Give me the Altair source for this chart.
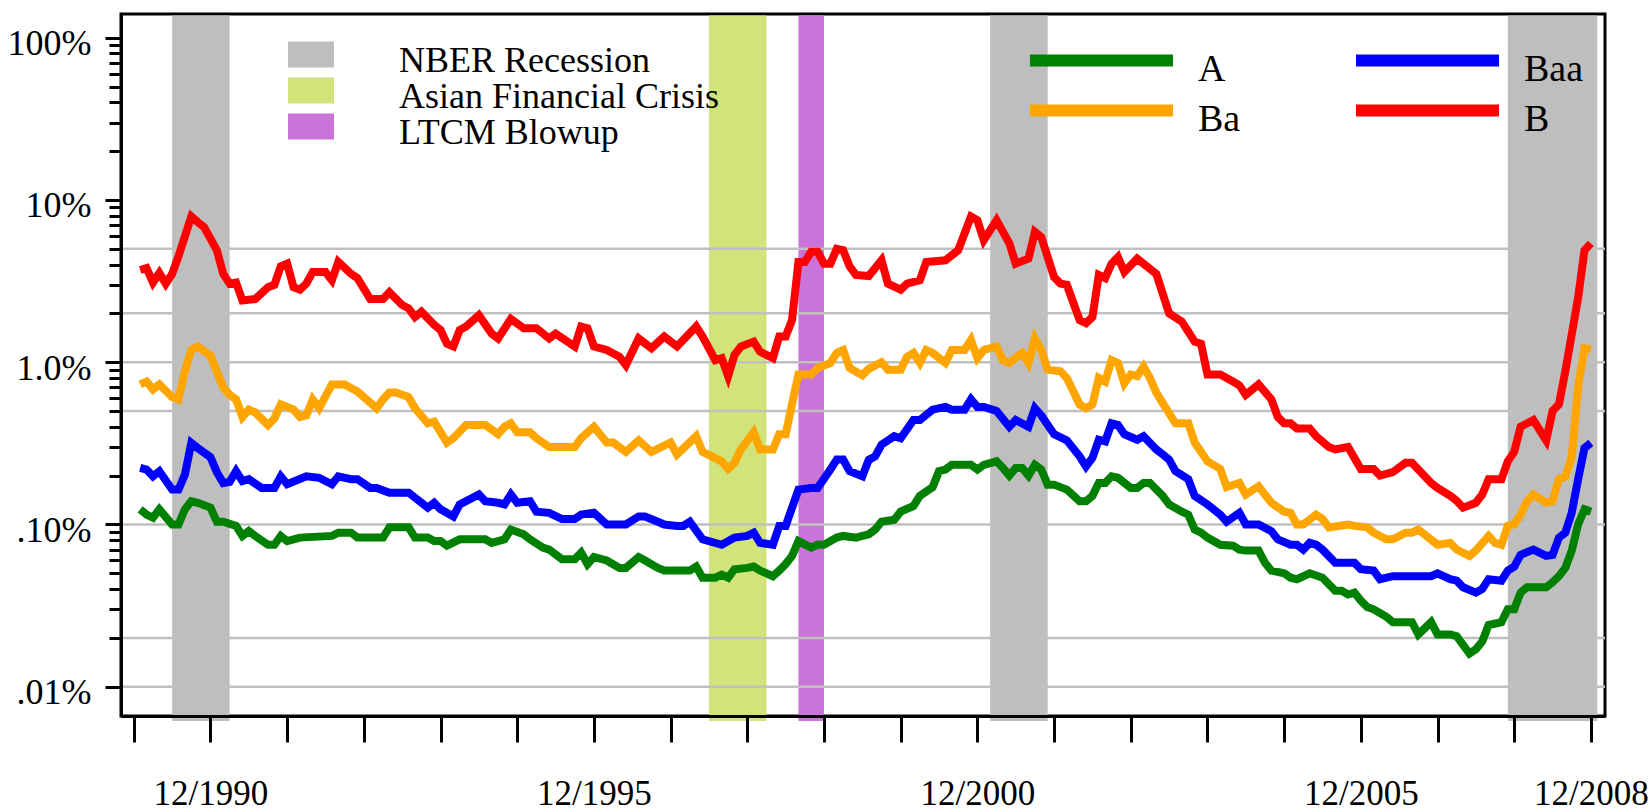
import altair as alt
import pandas as pd

# Trailing default rates by rating class, monthly, in percent
SERIES_A = [
    ("1990-01", 0.124), ("1990-02", 0.115), ("1990-03", 0.11), ("1990-04", 0.124), ("1990-06", 0.10),
    ("1990-07", 0.10), ("1990-08", 0.124), ("1990-09", 0.139), ("1990-10", 0.136), ("1990-12", 0.127),
    ("1991-01", 0.104), ("1991-02", 0.104), ("1991-04", 0.098), ("1991-05", 0.085), ("1991-06", 0.091),
    ("1991-07", 0.085), ("1991-09", 0.075), ("1991-10", 0.075), ("1991-11", 0.085), ("1991-12", 0.079),
    ("1992-02", 0.083), ("1992-07", 0.085), ("1992-08", 0.089), ("1992-10", 0.089), ("1992-11", 0.083),
    ("1993-03", 0.083), ("1993-04", 0.096), ("1993-07", 0.096), ("1993-08", 0.083), ("1993-10", 0.083),
    ("1993-11", 0.079), ("1993-12", 0.079), ("1994-01", 0.074), ("1994-03", 0.081), ("1994-07", 0.081),
    ("1994-08", 0.077), ("1994-10", 0.081), ("1994-11", 0.093), ("1995-01", 0.087), ("1995-02", 0.081),
    ("1995-04", 0.072), ("1995-05", 0.070), ("1995-07", 0.061), ("1995-09", 0.061), ("1995-10", 0.067),
    ("1995-11", 0.057), ("1995-12", 0.063), ("1996-02", 0.060), ("1996-04", 0.054), ("1996-05", 0.054),
    ("1996-07", 0.063), ("1996-08", 0.060), ("1996-10", 0.054), ("1996-11", 0.052), ("1997-03", 0.052),
    ("1997-04", 0.055), ("1997-05", 0.047), ("1997-07", 0.047), ("1997-08", 0.049), ("1997-09", 0.047),
    ("1997-10", 0.053), ("1997-12", 0.054), ("1998-01", 0.055), ("1998-02", 0.052), ("1998-04", 0.048),
    ("1998-05", 0.052), ("1998-06", 0.057), ("1998-07", 0.064), ("1998-08", 0.079), ("1998-10", 0.072),
    ("1998-11", 0.075), ("1998-12", 0.075), ("1999-02", 0.083), ("1999-03", 0.085), ("1999-05", 0.083),
    ("1999-06", 0.085), ("1999-07", 0.087), ("1999-08", 0.093), ("1999-09", 0.104), ("1999-11", 0.107),
    ("1999-12", 0.12), ("2000-02", 0.13), ("2000-03", 0.15), ("2000-05", 0.17), ("2000-06", 0.213),
    ("2000-07", 0.218), ("2000-08", 0.233), ("2000-11", 0.233), ("2000-12", 0.218), ("2001-01", 0.233),
    ("2001-03", 0.245), ("2001-04", 0.223), ("2001-05", 0.20), ("2001-06", 0.223), ("2001-07", 0.223),
    ("2001-08", 0.20), ("2001-09", 0.233), ("2001-10", 0.218), ("2001-11", 0.176), ("2001-12", 0.176),
    ("2002-02", 0.164), ("2002-04", 0.139), ("2002-05", 0.139), ("2002-06", 0.15), ("2002-07", 0.18),
    ("2002-08", 0.18), ("2002-09", 0.198), ("2002-10", 0.194), ("2002-12", 0.168), ("2003-01", 0.168),
    ("2003-02", 0.18), ("2003-03", 0.18), ("2003-05", 0.15), ("2003-06", 0.133), ("2003-08", 0.12),
    ("2003-09", 0.115), ("2003-10", 0.093), ("2003-11", 0.089), ("2003-12", 0.083), ("2004-02", 0.075),
    ("2004-04", 0.074), ("2004-05", 0.070), ("2004-06", 0.069), ("2004-08", 0.069), ("2004-09", 0.058),
    ("2004-10", 0.052), ("2004-12", 0.050), ("2005-01", 0.047), ("2005-02", 0.046), ("2005-04", 0.050),
    ("2005-06", 0.047), ("2005-08", 0.039), ("2005-09", 0.039), ("2005-10", 0.037), ("2005-11", 0.038),
    ("2005-12", 0.034), ("2006-01", 0.031), ("2006-02", 0.030), ("2006-04", 0.027), ("2006-05", 0.025),
    ("2006-08", 0.025), ("2006-09", 0.021), ("2006-11", 0.025), ("2006-12", 0.021), ("2007-02", 0.021),
    ("2007-03", 0.0205), ("2007-05", 0.016), ("2007-06", 0.017), ("2007-07", 0.019), ("2007-08", 0.024),
    ("2007-10", 0.025), ("2007-11", 0.030), ("2007-12", 0.030), ("2008-01", 0.038), ("2008-02", 0.041),
    ("2008-05", 0.041), ("2008-06", 0.044), ("2008-07", 0.048), ("2008-08", 0.054), ("2008-09", 0.069),
    ("2008-10", 0.10), ("2008-11", 0.124), ("2008-12", 0.12),
]

SERIES_BAA = [
    ("1990-01", 0.223), ("1990-02", 0.218), ("1990-03", 0.198), ("1990-04", 0.213), ("1990-06", 0.164),
    ("1990-07", 0.164), ("1990-08", 0.203), ("1990-09", 0.318), ("1990-10", 0.296), ("1990-12", 0.26),
    ("1991-01", 0.21), ("1991-02", 0.18), ("1991-03", 0.183), ("1991-04", 0.213), ("1991-05", 0.185),
    ("1991-06", 0.19), ("1991-08", 0.168), ("1991-10", 0.168), ("1991-11", 0.198), ("1991-12", 0.177),
    ("1992-03", 0.198), ("1992-05", 0.194), ("1992-07", 0.177), ("1992-08", 0.198), ("1992-10", 0.19),
    ("1992-11", 0.19), ("1993-01", 0.168), ("1993-02", 0.168), ("1993-04", 0.157), ("1993-07", 0.157),
    ("1993-10", 0.127), ("1993-11", 0.136), ("1993-12", 0.124), ("1994-02", 0.112), ("1994-03", 0.133),
    ("1994-06", 0.153), ("1994-07", 0.139), ("1994-09", 0.136), ("1994-10", 0.133), ("1994-11", 0.153),
    ("1994-12", 0.136), ("1995-02", 0.139), ("1995-03", 0.12), ("1995-05", 0.118), ("1995-07", 0.108),
    ("1995-09", 0.108), ("1995-10", 0.115), ("1995-12", 0.118), ("1996-02", 0.10), ("1996-05", 0.10),
    ("1996-07", 0.112), ("1996-08", 0.112), ("1996-10", 0.104), ("1996-11", 0.10), ("1997-01", 0.098),
    ("1997-02", 0.098), ("1997-03", 0.104), ("1997-05", 0.081), ("1997-08", 0.075), ("1997-10", 0.083),
    ("1997-12", 0.085), ("1998-01", 0.089), ("1998-02", 0.077), ("1998-04", 0.075), ("1998-05", 0.098),
    ("1998-06", 0.098), ("1998-08", 0.164), ("1998-10", 0.168), ("1998-11", 0.168), ("1999-01", 0.218),
    ("1999-02", 0.251), ("1999-03", 0.251), ("1999-04", 0.213), ("1999-06", 0.198), ("1999-07", 0.25),
    ("1999-08", 0.263), ("1999-09", 0.31), ("1999-11", 0.35), ("1999-12", 0.34), ("2000-02", 0.44),
    ("2000-03", 0.44), ("2000-05", 0.51), ("2000-07", 0.53), ("2000-08", 0.51), ("2000-10", 0.51),
    ("2000-11", 0.59), ("2000-12", 0.53), ("2001-01", 0.53), ("2001-03", 0.50), ("2001-05", 0.40),
    ("2001-06", 0.44), ("2001-08", 0.40), ("2001-09", 0.52), ("2001-10", 0.47), ("2001-12", 0.36),
    ("2002-02", 0.33), ("2002-04", 0.263), ("2002-05", 0.228), ("2002-06", 0.257), ("2002-07", 0.333),
    ("2002-08", 0.325), ("2002-09", 0.42), ("2002-10", 0.41), ("2002-11", 0.36), ("2003-01", 0.333),
    ("2003-02", 0.35), ("2003-04", 0.29), ("2003-05", 0.27), ("2003-06", 0.251), ("2003-07", 0.213),
    ("2003-09", 0.19), ("2003-10", 0.15), ("2003-12", 0.133), ("2004-02", 0.115), ("2004-03", 0.104),
    ("2004-05", 0.118), ("2004-06", 0.10), ("2004-08", 0.10), ("2004-10", 0.091), ("2004-11", 0.081),
    ("2005-01", 0.075), ("2005-02", 0.075), ("2005-03", 0.07), ("2005-04", 0.077), ("2005-05", 0.075),
    ("2005-06", 0.07), ("2005-08", 0.058), ("2005-11", 0.058), ("2005-12", 0.053), ("2006-02", 0.052),
    ("2006-03", 0.046), ("2006-05", 0.048), ("2006-11", 0.048), ("2006-12", 0.050), ("2007-02", 0.046),
    ("2007-03", 0.045), ("2007-04", 0.041), ("2007-06", 0.038), ("2007-07", 0.040), ("2007-08", 0.046),
    ("2007-10", 0.045), ("2007-11", 0.052), ("2007-12", 0.055), ("2008-01", 0.065), ("2008-03", 0.070),
    ("2008-05", 0.064), ("2008-06", 0.065), ("2008-07", 0.083), ("2008-08", 0.089), ("2008-09", 0.118),
    ("2008-10", 0.19), ("2008-11", 0.296), ("2008-12", 0.318),
]

SERIES_BA = [
    ("1990-01", 0.73), ("1990-02", 0.76), ("1990-03", 0.68), ("1990-04", 0.73), ("1990-06", 0.61),
    ("1990-07", 0.59), ("1990-08", 0.88), ("1990-09", 1.19), ("1990-10", 1.25), ("1990-12", 1.1),
    ("1991-02", 0.70), ("1991-03", 0.63), ("1991-04", 0.59), ("1991-05", 0.46), ("1991-06", 0.51),
    ("1991-07", 0.49), ("1991-09", 0.41), ("1991-10", 0.45), ("1991-11", 0.55), ("1992-01", 0.51),
    ("1992-02", 0.46), ("1992-03", 0.47), ("1992-04", 0.59), ("1992-05", 0.52), ("1992-07", 0.73),
    ("1992-09", 0.73), ("1992-11", 0.66), ("1993-02", 0.52), ("1993-03", 0.59), ("1993-04", 0.65),
    ("1993-05", 0.65), ("1993-07", 0.61), ("1993-08", 0.52), ("1993-10", 0.42), ("1993-11", 0.43),
    ("1994-01", 0.32), ("1994-02", 0.34), ("1994-04", 0.41), ("1994-07", 0.41), ("1994-09", 0.36),
    ("1994-10", 0.40), ("1994-11", 0.42), ("1994-12", 0.37), ("1995-02", 0.37), ("1995-03", 0.34),
    ("1995-05", 0.30), ("1995-09", 0.30), ("1995-10", 0.34), ("1995-12", 0.40), ("1996-02", 0.32),
    ("1996-03", 0.32), ("1996-05", 0.28), ("1996-07", 0.33), ("1996-09", 0.28), ("1996-12", 0.32),
    ("1997-01", 0.27), ("1997-04", 0.35), ("1997-05", 0.28), ("1997-08", 0.245), ("1997-09", 0.22),
    ("1997-10", 0.24), ("1997-11", 0.29), ("1998-01", 0.37), ("1998-02", 0.29), ("1998-04", 0.29),
    ("1998-05", 0.36), ("1998-06", 0.36), ("1998-08", 0.84), ("1998-10", 0.84), ("1998-11", 0.92),
    ("1999-01", 0.99), ("1999-02", 1.14), ("1999-03", 1.19), ("1999-04", 0.92), ("1999-06", 0.83),
    ("1999-07", 0.91), ("1999-09", 1.0), ("1999-10", 0.9), ("1999-12", 0.9), ("2000-01", 1.08),
    ("2000-02", 1.14), ("2000-03", 0.99), ("2000-04", 1.19), ("2000-05", 1.14), ("2000-07", 0.99),
    ("2000-08", 1.19), ("2000-10", 1.19), ("2000-11", 1.37), ("2000-12", 1.06), ("2001-01", 1.19),
    ("2001-03", 1.25), ("2001-04", 1.03), ("2001-05", 0.99), ("2001-07", 1.14), ("2001-08", 0.99),
    ("2001-09", 1.40), ("2001-10", 1.19), ("2001-11", 0.9), ("2002-01", 0.88), ("2002-02", 0.80),
    ("2002-04", 0.55), ("2002-05", 0.52), ("2002-06", 0.55), ("2002-07", 0.80), ("2002-08", 0.76),
    ("2002-09", 1.03), ("2002-10", 0.99), ("2002-11", 0.74), ("2002-12", 0.84), ("2003-01", 0.82),
    ("2003-02", 0.94), ("2003-03", 0.80), ("2003-04", 0.65), ("2003-05", 0.56), ("2003-07", 0.42),
    ("2003-09", 0.42), ("2003-10", 0.32), ("2003-12", 0.245), ("2004-02", 0.22), ("2004-03", 0.17),
    ("2004-05", 0.18), ("2004-06", 0.153), ("2004-08", 0.172), ("2004-10", 0.136), ("2004-12", 0.12),
    ("2005-01", 0.118), ("2005-02", 0.10), ("2005-03", 0.10), ("2005-05", 0.115), ("2005-06", 0.108),
    ("2005-07", 0.096), ("2005-10", 0.10), ("2005-11", 0.098), ("2006-01", 0.096), ("2006-02", 0.089),
    ("2006-04", 0.081), ("2006-05", 0.081), ("2006-07", 0.089), ("2006-08", 0.089), ("2006-09", 0.093),
    ("2006-12", 0.075), ("2007-02", 0.077), ("2007-03", 0.070), ("2007-05", 0.064), ("2007-06", 0.069),
    ("2007-08", 0.085), ("2007-09", 0.077), ("2007-10", 0.075), ("2007-11", 0.098), ("2007-12", 0.10),
    ("2008-01", 0.115), ("2008-02", 0.139), ("2008-03", 0.153), ("2008-05", 0.136), ("2008-06", 0.139),
    ("2008-07", 0.19), ("2008-08", 0.198), ("2008-09", 0.26), ("2008-10", 0.71), ("2008-11", 1.22),
    ("2008-12", 1.2),
]

SERIES_B = [
    ("1990-01", 3.7), ("1990-02", 3.8), ("1990-03", 3.1), ("1990-04", 3.55), ("1990-05", 3.05),
    ("1990-06", 3.5), ("1990-07", 4.5), ("1990-09", 7.9), ("1990-10", 7.3), ("1990-11", 6.8),
    ("1991-01", 4.9), ("1991-02", 3.5), ("1991-03", 3.05), ("1991-04", 3.1), ("1991-05", 2.4),
    ("1991-07", 2.45), ("1991-09", 2.9), ("1991-10", 3.0), ("1991-11", 3.9), ("1991-12", 4.05),
    ("1992-01", 2.9), ("1992-02", 2.8), ("1992-03", 3.05), ("1992-04", 3.6), ("1992-06", 3.6),
    ("1992-07", 3.2), ("1992-08", 4.15), ("1992-10", 3.5), ("1992-11", 3.3), ("1993-01", 2.45),
    ("1993-03", 2.45), ("1993-04", 2.7), ("1993-06", 2.25), ("1993-07", 2.15), ("1993-08", 1.9),
    ("1993-09", 2.05), ("1993-11", 1.7), ("1993-12", 1.58), ("1994-01", 1.3), ("1994-02", 1.25),
    ("1994-03", 1.58), ("1994-04", 1.66), ("1994-06", 1.95), ("1994-08", 1.5), ("1994-09", 1.4),
    ("1994-11", 1.85), ("1995-01", 1.62), ("1995-03", 1.62), ("1995-05", 1.4), ("1995-06", 1.5),
    ("1995-09", 1.25), ("1995-10", 1.66), ("1995-11", 1.62), ("1995-12", 1.25), ("1996-02", 1.19),
    ("1996-04", 1.08), ("1996-05", 0.96), ("1996-07", 1.4), ("1996-09", 1.22), ("1996-11", 1.44),
    ("1997-01", 1.25), ("1997-04", 1.66), ("1997-05", 1.44), ("1997-07", 1.03), ("1997-08", 1.06),
    ("1997-09", 0.82), ("1997-10", 1.11), ("1997-11", 1.25), ("1998-01", 1.34), ("1998-02", 1.16),
    ("1998-04", 1.06), ("1998-05", 1.44), ("1998-06", 1.44), ("1998-07", 1.82), ("1998-08", 4.15),
    ("1998-09", 4.15), ("1998-10", 4.8), ("1998-11", 4.8), ("1998-12", 4.05), ("1999-01", 4.05),
    ("1999-02", 5.0), ("1999-03", 4.9), ("1999-04", 3.9), ("1999-05", 3.45), ("1999-07", 3.4),
    ("1999-09", 4.25), ("1999-10", 3.05), ("1999-12", 2.8), ("2000-01", 3.05), ("2000-03", 3.2),
    ("2000-04", 4.15), ("2000-07", 4.25), ("2000-09", 4.9), ("2000-11", 7.9), ("2000-12", 7.5),
    ("2001-01", 5.65), ("2001-03", 7.5), ("2001-05", 5.4), ("2001-06", 4.05), ("2001-08", 4.35),
    ("2001-09", 6.35), ("2001-10", 5.9), ("2001-12", 3.35), ("2002-01", 3.05), ("2002-02", 3.0),
    ("2002-04", 1.82), ("2002-05", 1.74), ("2002-06", 1.9), ("2002-07", 3.45), ("2002-08", 3.3),
    ("2002-09", 4.05), ("2002-10", 4.45), ("2002-11", 3.6), ("2003-01", 4.35), ("2003-04", 3.5),
    ("2003-06", 2.0), ("2003-08", 1.78), ("2003-10", 1.34), ("2003-11", 1.3), ("2003-12", 0.84),
    ("2004-02", 0.84), ("2004-04", 0.76), ("2004-05", 0.72), ("2004-06", 0.63), ("2004-08", 0.73),
    ("2004-10", 0.59), ("2004-11", 0.46), ("2004-12", 0.42), ("2005-01", 0.42), ("2005-02", 0.39),
    ("2005-04", 0.39), ("2005-05", 0.35), ("2005-07", 0.30), ("2005-08", 0.29), ("2005-10", 0.30),
    ("2005-12", 0.22), ("2006-02", 0.22), ("2006-03", 0.20), ("2006-05", 0.21), ("2006-07", 0.24),
    ("2006-08", 0.24), ("2006-11", 0.18), ("2006-12", 0.168), ("2007-02", 0.15), ("2007-03", 0.14),
    ("2007-04", 0.127), ("2007-06", 0.136), ("2007-07", 0.153), ("2007-08", 0.19), ("2007-10", 0.19),
    ("2007-11", 0.245), ("2007-12", 0.28), ("2008-01", 0.40), ("2008-03", 0.44), ("2008-05", 0.33),
    ("2008-06", 0.50), ("2008-07", 0.55), ("2008-08", 0.88), ("2008-10", 2.5), ("2008-11", 4.9),
    ("2008-12", 5.4),
]

# Legend order: first column A, Ba; second column Baa, B
SERIES_NAMES = ["A", "Ba", "Baa", "B"]
SERIES_COLORS = ["#008000", "#ffa500", "#0000ff", "#ff0000"]
SERIES_DATA = [SERIES_A, SERIES_BA, SERIES_BAA, SERIES_B]

# Shaded episodes: (label, first month, last month)
NBER = "\u00a0NBER Recession"
EVENTS = [
    (NBER, "1990-06", "1991-03"),
    (NBER, "2001-02", "2001-11"),
    (NBER, "2007-11", "2009-01"),
    ("Asian Financial Crisis", "1997-06", "1998-03"),
    ("LTCM Blowup", "1998-08", "1998-12"),
]
EVENT_NAMES = [NBER, "Asian Financial Crisis", "LTCM Blowup"]
EVENT_COLORS = ["#bebebe", "#d0e47a", "#ca73d8"]

GRID_LEVELS = [5, 2, 1, 0.5, 0.1, 0.02, 0.01]
Y_MAJOR = [100, 10, 1, 0.1, 0.01]
Y_MAJOR_LABELS = ["100%", "10%", "1.0%", ".10%", ".01%"]
X_TICK_YEARS = list(range(1989, 2009))
X_LABEL_YEARS = [1990, 1995, 2000, 2005, 2008]

FONT = "Liberation Serif"


def month_to_year(s):
    y, m = s.split("-")
    return int(y) + (int(m) - 1) / 12


rows = []
for name, pts in zip(SERIES_NAMES, SERIES_DATA):
    for d, v in pts:
        rows.append({"series": name, "t": month_to_year(d), "pct": v})
lines_df = pd.DataFrame(rows)

events_df = pd.DataFrame(
    [{"event": n, "start": month_to_year(a), "end": month_to_year(b)} for n, a, b in EVENTS]
)
grid_df = pd.DataFrame({"level": GRID_LEVELS})

# log ticks: every integer multiple within each decade
y_ticks = sorted({round(j * 10.0 ** k, 6) for k in range(-2, 2) for j in range(1, 10)} | {100.0})
y_label_expr = "".join(
    f"abs(datum.value - {v}) < {v / 1000} ? '{lab}' : " for v, lab in zip(Y_MAJOR, Y_MAJOR_LABELS)
) + "''"
decade_test = "abs(log(datum.value)/LN10 - round(log(datum.value)/LN10)) < 0.001"

x_ticks = [y + 11 / 12 for y in X_TICK_YEARS]
x_label_expr = (
    f"indexof({X_LABEL_YEARS}, floor(datum.value + 0.01)) >= 0 ? "
    "'12/' + floor(datum.value + 0.01) : ''"
)

x_scale = alt.Scale(domain=[1989.75, 2009.1006], nice=False, zero=False)
y_scale = alt.Scale(type="log", domain=[0.0066, 140], nice=False)

x_axis = alt.Axis(
    values=x_ticks, labelExpr=x_label_expr, title=None, grid=False,
    tickSize=26, tickWidth=3, tickColor="black", domainWidth=3, domainColor="black",
    labelFont=FONT, labelFontSize=35, labelColor="black", labelPadding=34,
    labelOverlap=False, labelFlush=False, zindex=1,
)
y_axis = alt.Axis(
    values=y_ticks, labelExpr=y_label_expr, title=None, grid=False,
    tickSize={"condition": {"test": decade_test, "value": 16}, "value": 12},
    tickWidth=3, tickColor="black", domainWidth=3, domainColor="black",
    labelFont=FONT, labelFontSize=36, labelColor="black", labelPadding=14, labelOffset=6,
    labelOverlap=False, labelFlush=False, zindex=1,
)

shade = alt.Chart(events_df).mark_rect().encode(
    x=alt.X("start:Q", scale=x_scale, axis=x_axis),
    x2="end:Q",
    y=alt.value(1.5),
    y2=alt.value(707),
    fill=alt.Fill(
        "event:N",
        scale=alt.Scale(domain=EVENT_NAMES, range=EVENT_COLORS),
        legend=alt.Legend(
            title=None, orient="none", legendX=164, legendY=29, direction="vertical",
            symbolType="M-1,-1.307H2.067V0.427H-1Z", symbolSize=900, symbolStrokeWidth=0,
            symbolOpacity=1, labelFont=FONT, labelFontSize=36, labelColor="black",
            labelOffset=78, labelLimit=1000, rowPadding=-3.5, padding=0,
        ),
    ),
)

grid = alt.Chart(grid_df).mark_rule(color="#c0c0c0", strokeWidth=2.5).encode(
    y=alt.Y("level:Q", scale=y_scale, axis=y_axis)
)

lines = alt.Chart(lines_df).mark_line(strokeWidth=8).encode(
    x=alt.X("t:Q", scale=x_scale, axis=x_axis),
    y=alt.Y("pct:Q", scale=y_scale, axis=y_axis),
    color=alt.Color(
        "series:N",
        scale=alt.Scale(domain=SERIES_NAMES, range=SERIES_COLORS),
        legend=alt.Legend(
            title=None, orient="none", legendX=908, legendY=37.2, direction="vertical",
            columns=2, columnPadding=91, rowPadding=-3,
            symbolType="M-1.5,-0.8H10.42", symbolSize=576, symbolStrokeWidth=12,
            labelFont=FONT, labelFontSize=38, labelColor="black", labelOffset=131,
            labelLimit=1000, padding=0,
        ),
    ),
    order="t:Q",
)

chart = (
    alt.layer(shade, grid, lines)
    .properties(
        width=1484,
        height=702,
        autosize=alt.AutoSizeParams(type="none"),
        padding={"left": 121, "top": 14, "right": 47, "bottom": 96},
        background="white",
    )
    .configure_view(stroke="black", strokeWidth=3)
)

chart.save("out.html", embed_options={"renderer": "svg", "actions": False})
